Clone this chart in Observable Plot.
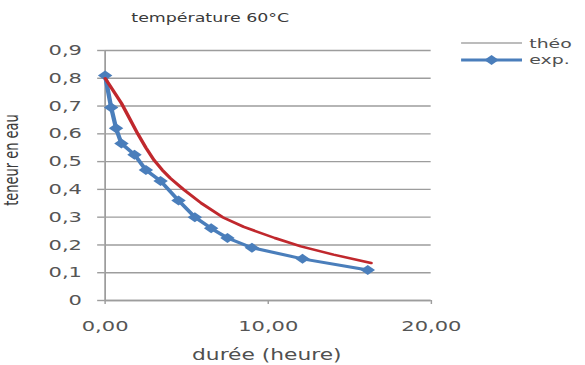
<!DOCTYPE html>
<html>
<head>
<meta charset="utf-8">
<script src="https://cdn.jsdelivr.net/npm/d3@7"></script>
<script src="https://cdn.jsdelivr.net/npm/@observablehq/plot@0.6"></script>
<style>
  html, body { margin: 0; padding: 0; background: #fff; overflow: hidden; }
  /* the chart is laid out narrow, then widened horizontally */
  #chart {
    position: relative; width: 403px; height: 365px;
    transform: scaleX(1.45); transform-origin: 0 0;
    font-family: "DejaVu Sans", sans-serif;
  }
  #chart > svg { position: absolute; left: 0; top: 0; }
  .lbl { position: absolute; white-space: nowrap; color: #3a3a3a; line-height: 1; }
  #title { left: 145px; top: 12px; font-size: 12px; transform: translateX(-50%); }
  #ylabel { left: 8px; top: 160px; font-size: 13px; transform: translate(-50%, -50%) rotate(-90deg); }
  #xlabel { left: 184px; top: 348px; font-size: 15px; transform: translateX(-50%); color: #505050; }
  #legend { position: absolute; left: 318px; top: 35px; font-size: 13px; color: #505050; }
  #legend .row { display: flex; align-items: center; height: 16.5px; }
  #legend svg { display: block; margin-right: 5px; }
</style>
</head>
<body>
<div id="chart">
  <div id="title" class="lbl">température 60°C</div>
  <div id="ylabel" class="lbl">teneur en eau</div>
  <div id="xlabel" class="lbl">durée (heure)</div>
  <div id="legend"></div>
</div>
<script>
// measured drying curve: time (h) and water content
const expHours = [0, 0.37, 0.67, 1.0, 1.8, 2.5, 3.4, 4.5, 5.5, 6.5, 7.5, 9.0, 12.1, 16.1];
const expWater = [0.81, 0.695, 0.62, 0.565, 0.525, 0.47, 0.43, 0.36, 0.30, 0.26, 0.225, 0.19, 0.15, 0.11];

// model curve
const theoHours = [0, 0.5, 1.0, 1.5, 2.0, 2.5, 3.0, 3.5, 4.0, 4.8, 5.9, 7.2, 8.5, 10.4, 12.0, 14.0, 16.3];
const theoWater = [0.80, 0.755, 0.71, 0.655, 0.60, 0.55, 0.505, 0.47, 0.44, 0.40, 0.35, 0.30, 0.265, 0.225, 0.195, 0.165, 0.135];

const yTicks = [0, 0.1, 0.2, 0.3, 0.4, 0.5, 0.6, 0.7, 0.8, 0.9];
const xTicks = [0, 10, 20];

const seriesNames = ["théo", "exp."];
const seriesColors = { "théo": "#c0282d", "exp.": "#4a7ebb" };
const legendColors = { "théo": "#a6a6a6", "exp.": "#4a7ebb" };

const exp = expHours.map((t, i) => ({ t, w: expWater[i] }));
const theo = theoHours.map((t, i) => ({ t, w: theoWater[i] }));

const gridColor = "#9d9d9d";
const fmtY = d => d === 0 ? "0" : d.toFixed(1).replace(".", ",");
const fmtX = d => d.toFixed(2).replace(".", ",");

const chart = Plot.plot({
  width: 403,
  height: 365,
  marginLeft: 72,
  marginRight: 106,
  marginTop: 50,
  marginBottom: 65,
  style: { fontFamily: "DejaVu Sans, sans-serif", fontSize: "14.5px", background: "transparent", overflow: "visible" },
  x: { domain: [0, 20] },
  y: { domain: [0, 0.9] },
  marks: [
    Plot.gridY(yTicks, { stroke: gridColor, strokeOpacity: 1, strokeWidth: 1.4 }),
    Plot.axisY(yTicks, { tickSize: 5, tickPadding: 11, stroke: gridColor, strokeWidth: 1.4, fill: "#555", tickFormat: fmtY, label: null, fontSize: 14.5 }),
    Plot.axisX(xTicks, { tickSize: 4, tickPadding: 16, stroke: gridColor, fill: "#555", tickFormat: fmtX, label: null, fontSize: 14.5 }),
    Plot.ruleY([0], { stroke: gridColor, strokeWidth: 1.4 }),
    Plot.ruleX([0], { stroke: gridColor, strokeWidth: 1.2 }),
    Plot.line(exp, { x: "t", y: "w", stroke: seriesColors["exp."], strokeWidth: 3 }),
    Plot.dot(exp, { x: "t", y: "w", symbol: "diamond2", r: 4.5, fill: seriesColors["exp."], stroke: "none" }),
    Plot.line(theo, { x: "t", y: "w", stroke: seriesColors["théo"], strokeWidth: 2.5 })
  ]
});
document.getElementById("chart").prepend(chart);

// legend: line swatches with series names
const legend = d3.select("#legend");
seriesNames.forEach(name => {
  const row = legend.append("div").attr("class", "row");
  const sw = row.append("svg").attr("width", 42).attr("height", 12);
  sw.append("line").attr("x1", 0).attr("x2", 42).attr("y1", 6).attr("y2", 6)
    .attr("stroke", legendColors[name]).attr("stroke-width", name === "exp." ? 3 : 1.5);
  if (name === "exp.") {
    sw.append("path").attr("d", "M21,1 L26,6 L21,11 L16,6 Z").attr("fill", legendColors[name]);
  }
  row.append("span").text(name);
});
</script>
</body>
</html>
